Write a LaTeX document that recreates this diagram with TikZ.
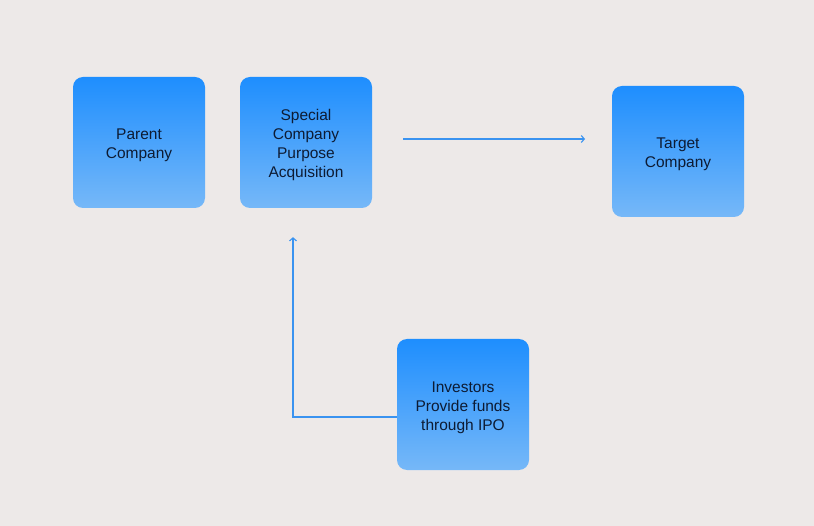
\documentclass[tikz,border=0pt]{standalone}
\usepackage{fontspec}
\setmainfont{Liberation Sans}
\usetikzlibrary{arrows,arrows.meta,positioning,shapes}
\definecolor{bg}{HTML}{EDE9E8}
\definecolor{boxtop}{HTML}{1E8EFE}
\definecolor{boxbot}{HTML}{76B8F8}
\definecolor{ink}{HTML}{0D1B33}
\definecolor{linkblue}{HTML}{3A93F0}
\newcommand{\topgap}{\rule{0pt}{16.5pt}}
\tikzset{
  card/.style={rectangle,rounded corners=10pt,minimum width=132pt,minimum height=131pt,
    top color=boxtop,bottom color=boxbot,draw=none,text=ink,align=center,
    font=\fontsize{15.5}{19}\selectfont},
  link/.style={draw=linkblue,line width=1.1pt,-{Straight Barb[length=3pt,width=7pt]}}
}

\begin{document}
\begin{tikzpicture}[x=1pt,y=-1pt]
\fill[bg] (0,0) rectangle (814,526);
\node[card] (parent) at (139,142.5) {\topgap Parent\\Company};
\node[card] (spac) at (306,142.5) {\topgap Special\\Company\\Purpose\\Acquisition};
\node[card] (target) at (678,151.5) {\topgap Target\\Company};
\node[card] (inv) at (463,404.5) {\topgap Investors\\Provide funds\\through IPO};
\coordinate (a1) at (403,139);
\coordinate (a2) at (585,139);
\draw[link] (a1) -- (a2);
\draw[link] ([yshift=-12.5pt]inv.west) -| ([xshift=-13pt,yshift=-29pt]spac.south);
\end{tikzpicture}
\end{document}
